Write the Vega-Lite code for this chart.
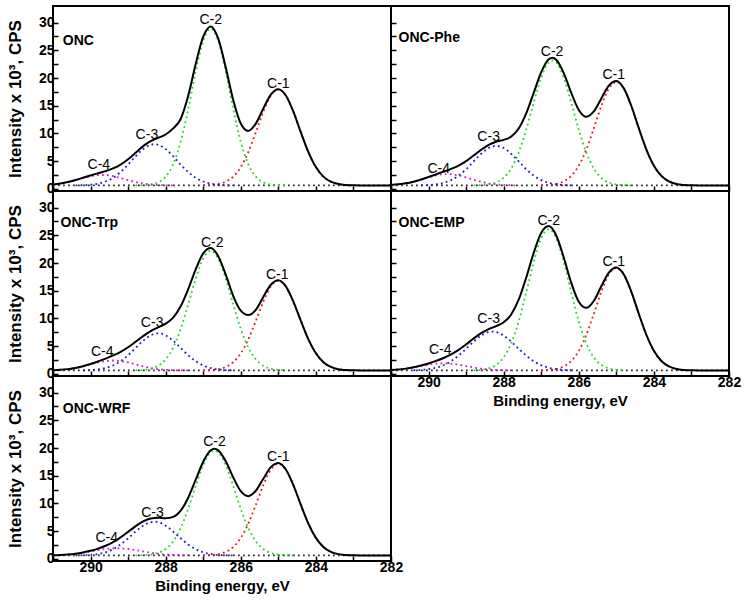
{
"$schema": "https://vega.github.io/schema/vega-lite/v6.json",
"padding": {"left": 5, "top": 5, "right": 14, "bottom": 8},
"background": "white",
"config": {
  "font": "Liberation Sans",
  "view": {"stroke": "black", "strokeWidth": 2},
  "axis": {"grid": false, "domain": false, "tickColor": "black", "tickSize": -5, "tickWidth": 1.5, "labelFont": "Liberation Sans", "labelFontSize": 14, "labelFontWeight": "bold", "labelColor": "black", "labelPadding": 4, "labelFlush": false, "labelOverlap": false, "titleFont": "Liberation Sans", "titleFontSize": 15, "titleFontWeight": "bold", "titleColor": "black"}
},
"datasets": {
"l": [
{"p":"ONC","k":"n","t":"ONC","x":290.74,"y":26.7},
{"p":"ONC","k":"c","t":"C-1","x":285.0,"y":18.2},
{"p":"ONC","k":"c","t":"C-2","x":286.8,"y":29.7},
{"p":"ONC","k":"c","t":"C-3","x":288.5,"y":8.95},
{"p":"ONC","k":"c","t":"C-4","x":289.78,"y":3.55},
{"p":"Phe","k":"n","t":"ONC-Phe","x":290.8,"y":27.3},
{"p":"Phe","k":"c","t":"C-1","x":285.07,"y":19.8},
{"p":"Phe","k":"c","t":"C-2","x":286.71,"y":24.0},
{"p":"Phe","k":"c","t":"C-3","x":288.4,"y":8.65},
{"p":"Phe","k":"c","t":"C-4","x":289.73,"y":2.9},
{"p":"Trp","k":"n","t":"ONC-Trp","x":290.8,"y":27.3},
{"p":"Trp","k":"c","t":"C-1","x":285.03,"y":17.1},
{"p":"Trp","k":"c","t":"C-2","x":286.76,"y":22.9},
{"p":"Trp","k":"c","t":"C-3","x":288.36,"y":8.4},
{"p":"Trp","k":"c","t":"C-4","x":289.69,"y":3.3},
{"p":"EMP","k":"n","t":"ONC-EMP","x":290.8,"y":27.3},
{"p":"EMP","k":"c","t":"C-1","x":285.07,"y":19.4},
{"p":"EMP","k":"c","t":"C-2","x":286.8,"y":26.8},
{"p":"EMP","k":"c","t":"C-3","x":288.4,"y":9.2},
{"p":"EMP","k":"c","t":"C-4","x":289.69,"y":3.6},
{"p":"WRF","k":"n","t":"ONC-WRF","x":290.74,"y":27.0},
{"p":"WRF","k":"c","t":"C-1","x":285.0,"y":17.7},
{"p":"WRF","k":"c","t":"C-2","x":286.7,"y":20.4},
{"p":"WRF","k":"c","t":"C-3","x":288.35,"y":7.6},
{"p":"WRF","k":"c","t":"C-4","x":289.57,"y":3.1}
],
"c": [
{"p":"ONC","s":"B","x":282,"y":0.6},{"p":"ONC","s":"B","x":291,"y":0.6},
{"p":"ONC","s":"E","x":282.0,"y":0.6},{"p":"ONC","s":"E","x":282.4,"y":0.6},{"p":"ONC","s":"E","x":282.8,"y":0.6},{"p":"ONC","s":"E","x":283.0,"y":0.62},{"p":"ONC","s":"E","x":283.2,"y":0.68},{"p":"ONC","s":"E","x":283.4,"y":0.85},{"p":"ONC","s":"E","x":283.6,"y":1.28},{"p":"ONC","s":"E","x":283.8,"y":2.2},{"p":"ONC","s":"E","x":284.0,"y":3.92},{"p":"ONC","s":"E","x":284.2,"y":6.62},{"p":"ONC","s":"E","x":284.4,"y":10.17},{"p":"ONC","s":"E","x":284.6,"y":13.92},{"p":"ONC","s":"E","x":284.8,"y":16.85},{"p":"ONC","s":"E","x":285.0,"y":17.99},{"p":"ONC","s":"E","x":285.2,"y":17.01},{"p":"ONC","s":"E","x":285.4,"y":14.48},{"p":"ONC","s":"E","x":285.6,"y":11.76},{"p":"ONC","s":"E","x":285.8,"y":10.45},{"p":"ONC","s":"E","x":286.0,"y":11.79},{"p":"ONC","s":"E","x":286.2,"y":16.0},{"p":"ONC","s":"E","x":286.4,"y":21.88},{"p":"ONC","s":"E","x":286.6,"y":27.1},{"p":"ONC","s":"E","x":286.8,"y":29.31},{"p":"ONC","s":"E","x":287.0,"y":27.45},{"p":"ONC","s":"E","x":287.2,"y":22.54},{"p":"ONC","s":"E","x":287.4,"y":16.8},{"p":"ONC","s":"E","x":287.6,"y":12.6},{"p":"ONC","s":"E","x":287.8,"y":10.9},{"p":"ONC","s":"E","x":288.0,"y":9.8},{"p":"ONC","s":"E","x":288.2,"y":9.2},{"p":"ONC","s":"E","x":288.4,"y":8.6},{"p":"ONC","s":"E","x":288.6,"y":7.7},{"p":"ONC","s":"E","x":288.8,"y":6.49},{"p":"ONC","s":"E","x":289.0,"y":5.33},{"p":"ONC","s":"E","x":289.2,"y":4.36},{"p":"ONC","s":"E","x":289.4,"y":3.67},{"p":"ONC","s":"E","x":289.6,"y":3.18},{"p":"ONC","s":"E","x":289.8,"y":2.8},{"p":"ONC","s":"E","x":290.0,"y":2.41},{"p":"ONC","s":"E","x":290.2,"y":1.99},{"p":"ONC","s":"E","x":290.4,"y":1.58},{"p":"ONC","s":"E","x":290.6,"y":1.22},{"p":"ONC","s":"E","x":290.8,"y":0.95},{"p":"ONC","s":"E","x":291.0,"y":0.78},
{"p":"ONC","s":"C1","x":283.0,"y":0.62},{"p":"ONC","s":"C1","x":283.2,"y":0.68},{"p":"ONC","s":"C1","x":283.4,"y":0.85},{"p":"ONC","s":"C1","x":283.6,"y":1.28},{"p":"ONC","s":"C1","x":283.8,"y":2.2},{"p":"ONC","s":"C1","x":284.0,"y":3.92},{"p":"ONC","s":"C1","x":284.2,"y":6.62},{"p":"ONC","s":"C1","x":284.4,"y":10.17},{"p":"ONC","s":"C1","x":284.6,"y":13.92},{"p":"ONC","s":"C1","x":284.8,"y":16.84},{"p":"ONC","s":"C1","x":285.0,"y":17.95},{"p":"ONC","s":"C1","x":285.2,"y":16.84},{"p":"ONC","s":"C1","x":285.4,"y":13.92},{"p":"ONC","s":"C1","x":285.6,"y":10.17},{"p":"ONC","s":"C1","x":285.8,"y":6.62},{"p":"ONC","s":"C1","x":286.0,"y":3.92},{"p":"ONC","s":"C1","x":286.2,"y":2.2},{"p":"ONC","s":"C1","x":286.4,"y":1.28},{"p":"ONC","s":"C1","x":286.6,"y":0.85},{"p":"ONC","s":"C1","x":286.8,"y":0.68},{"p":"ONC","s":"C1","x":287.0,"y":0.62},
{"p":"ONC","s":"C2","x":284.8,"y":0.61},{"p":"ONC","s":"C2","x":285.0,"y":0.64},{"p":"ONC","s":"C2","x":285.2,"y":0.77},{"p":"ONC","s":"C2","x":285.4,"y":1.16},{"p":"ONC","s":"C2","x":285.6,"y":2.19},{"p":"ONC","s":"C2","x":285.8,"y":4.43},{"p":"ONC","s":"C2","x":286.0,"y":8.47},{"p":"ONC","s":"C2","x":286.2,"y":14.38},{"p":"ONC","s":"C2","x":286.4,"y":21.15},{"p":"ONC","s":"C2","x":286.6,"y":26.72},{"p":"ONC","s":"C2","x":286.8,"y":28.9},{"p":"ONC","s":"C2","x":287.0,"y":26.72},{"p":"ONC","s":"C2","x":287.2,"y":21.15},{"p":"ONC","s":"C2","x":287.4,"y":14.38},{"p":"ONC","s":"C2","x":287.6,"y":8.47},{"p":"ONC","s":"C2","x":287.8,"y":4.43},{"p":"ONC","s":"C2","x":288.0,"y":2.19},{"p":"ONC","s":"C2","x":288.2,"y":1.16},{"p":"ONC","s":"C2","x":288.4,"y":0.77},{"p":"ONC","s":"C2","x":288.6,"y":0.64},{"p":"ONC","s":"C2","x":288.8,"y":0.61},
{"p":"ONC","s":"C3","x":286.2,"y":0.62},{"p":"ONC","s":"C3","x":286.4,"y":0.65},{"p":"ONC","s":"C3","x":286.6,"y":0.73},{"p":"ONC","s":"C3","x":286.8,"y":0.93},{"p":"ONC","s":"C3","x":287.0,"y":1.31},{"p":"ONC","s":"C3","x":287.2,"y":1.99},{"p":"ONC","s":"C3","x":287.4,"y":3.02},{"p":"ONC","s":"C3","x":287.6,"y":4.37},{"p":"ONC","s":"C3","x":287.8,"y":5.86},{"p":"ONC","s":"C3","x":288.0,"y":7.17},{"p":"ONC","s":"C3","x":288.2,"y":7.95},{"p":"ONC","s":"C3","x":288.3,"y":8.05},{"p":"ONC","s":"C3","x":288.4,"y":7.95},{"p":"ONC","s":"C3","x":288.6,"y":7.17},{"p":"ONC","s":"C3","x":288.8,"y":5.86},{"p":"ONC","s":"C3","x":289.0,"y":4.37},{"p":"ONC","s":"C3","x":289.2,"y":3.02},{"p":"ONC","s":"C3","x":289.4,"y":1.99},{"p":"ONC","s":"C3","x":289.6,"y":1.31},{"p":"ONC","s":"C3","x":289.8,"y":0.93},{"p":"ONC","s":"C3","x":290.0,"y":0.73},{"p":"ONC","s":"C3","x":290.2,"y":0.65},{"p":"ONC","s":"C3","x":290.4,"y":0.62},
{"p":"ONC","s":"C4","x":287.8,"y":0.61},{"p":"ONC","s":"C4","x":288.0,"y":0.63},{"p":"ONC","s":"C4","x":288.2,"y":0.68},{"p":"ONC","s":"C4","x":288.4,"y":0.78},{"p":"ONC","s":"C4","x":288.6,"y":0.95},{"p":"ONC","s":"C4","x":288.8,"y":1.22},{"p":"ONC","s":"C4","x":289.0,"y":1.56},{"p":"ONC","s":"C4","x":289.2,"y":1.94},{"p":"ONC","s":"C4","x":289.4,"y":2.28},{"p":"ONC","s":"C4","x":289.6,"y":2.47},{"p":"ONC","s":"C4","x":289.7,"y":2.5},{"p":"ONC","s":"C4","x":289.8,"y":2.47},{"p":"ONC","s":"C4","x":290.0,"y":2.28},{"p":"ONC","s":"C4","x":290.2,"y":1.94},{"p":"ONC","s":"C4","x":290.4,"y":1.56},{"p":"ONC","s":"C4","x":290.6,"y":1.22},{"p":"ONC","s":"C4","x":290.8,"y":0.95},{"p":"ONC","s":"C4","x":291.0,"y":0.78},

{"p":"Phe","s":"B","x":282,"y":0.6},{"p":"Phe","s":"B","x":291,"y":0.6},
{"p":"Phe","s":"E","x":282.0,"y":0.6},{"p":"Phe","s":"E","x":282.4,"y":0.6},{"p":"Phe","s":"E","x":282.8,"y":0.6},{"p":"Phe","s":"E","x":283.0,"y":0.62},{"p":"Phe","s":"E","x":283.2,"y":0.69},{"p":"Phe","s":"E","x":283.4,"y":0.87},{"p":"Phe","s":"E","x":283.6,"y":1.33},{"p":"Phe","s":"E","x":283.8,"y":2.33},{"p":"Phe","s":"E","x":284.0,"y":4.18},{"p":"Phe","s":"E","x":284.2,"y":7.08},{"p":"Phe","s":"E","x":284.4,"y":10.9},{"p":"Phe","s":"E","x":284.6,"y":14.95},{"p":"Phe","s":"E","x":284.8,"y":18.13},{"p":"Phe","s":"E","x":285.0,"y":19.46},{"p":"Phe","s":"E","x":285.2,"y":18.62},{"p":"Phe","s":"E","x":285.4,"y":16.31},{"p":"Phe","s":"E","x":285.6,"y":13.96},{"p":"Phe","s":"E","x":285.8,"y":13.0},{"p":"Phe","s":"E","x":286.0,"y":14.24},{"p":"Phe","s":"E","x":286.2,"y":17.3},{"p":"Phe","s":"E","x":286.4,"y":20.87},{"p":"Phe","s":"E","x":286.6,"y":23.28},{"p":"Phe","s":"E","x":286.7,"y":23.65},{"p":"Phe","s":"E","x":286.8,"y":23.37},{"p":"Phe","s":"E","x":287.0,"y":21.05},{"p":"Phe","s":"E","x":287.2,"y":17.32},{"p":"Phe","s":"E","x":287.4,"y":13.6},{"p":"Phe","s":"E","x":287.6,"y":10.87},{"p":"Phe","s":"E","x":287.8,"y":9.42},{"p":"Phe","s":"E","x":288.0,"y":8.83},{"p":"Phe","s":"E","x":288.2,"y":8.5},{"p":"Phe","s":"E","x":288.4,"y":7.93},{"p":"Phe","s":"E","x":288.6,"y":7.05},{"p":"Phe","s":"E","x":288.8,"y":6.0},{"p":"Phe","s":"E","x":289.0,"y":4.99},{"p":"Phe","s":"E","x":289.2,"y":4.19},{"p":"Phe","s":"E","x":289.4,"y":3.59},{"p":"Phe","s":"E","x":289.6,"y":3.09},{"p":"Phe","s":"E","x":289.8,"y":2.61},{"p":"Phe","s":"E","x":290.0,"y":2.13},{"p":"Phe","s":"E","x":290.2,"y":1.67},{"p":"Phe","s":"E","x":290.4,"y":1.28},{"p":"Phe","s":"E","x":290.6,"y":0.98},{"p":"Phe","s":"E","x":290.8,"y":0.8},{"p":"Phe","s":"E","x":291.0,"y":0.69},
{"p":"Phe","s":"C1","x":283.0,"y":0.62},{"p":"Phe","s":"C1","x":283.2,"y":0.69},{"p":"Phe","s":"C1","x":283.4,"y":0.87},{"p":"Phe","s":"C1","x":283.6,"y":1.33},{"p":"Phe","s":"C1","x":283.8,"y":2.33},{"p":"Phe","s":"C1","x":284.0,"y":4.18},{"p":"Phe","s":"C1","x":284.2,"y":7.08},{"p":"Phe","s":"C1","x":284.4,"y":10.9},{"p":"Phe","s":"C1","x":284.6,"y":14.93},{"p":"Phe","s":"C1","x":284.8,"y":18.07},{"p":"Phe","s":"C1","x":285.0,"y":19.27},{"p":"Phe","s":"C1","x":285.2,"y":18.07},{"p":"Phe","s":"C1","x":285.4,"y":14.93},{"p":"Phe","s":"C1","x":285.6,"y":10.9},{"p":"Phe","s":"C1","x":285.8,"y":7.08},{"p":"Phe","s":"C1","x":286.0,"y":4.18},{"p":"Phe","s":"C1","x":286.2,"y":2.33},{"p":"Phe","s":"C1","x":286.4,"y":1.33},{"p":"Phe","s":"C1","x":286.6,"y":0.87},{"p":"Phe","s":"C1","x":286.8,"y":0.69},{"p":"Phe","s":"C1","x":287.0,"y":0.62},
{"p":"Phe","s":"C2","x":284.6,"y":0.62},{"p":"Phe","s":"C2","x":284.8,"y":0.66},{"p":"Phe","s":"C2","x":285.0,"y":0.79},{"p":"Phe","s":"C2","x":285.2,"y":1.15},{"p":"Phe","s":"C2","x":285.4,"y":1.98},{"p":"Phe","s":"C2","x":285.6,"y":3.66},{"p":"Phe","s":"C2","x":285.8,"y":6.52},{"p":"Phe","s":"C2","x":286.0,"y":10.65},{"p":"Phe","s":"C2","x":286.2,"y":15.54},{"p":"Phe","s":"C2","x":286.4,"y":20.06},{"p":"Phe","s":"C2","x":286.6,"y":22.81},{"p":"Phe","s":"C2","x":286.7,"y":23.18},{"p":"Phe","s":"C2","x":286.8,"y":22.81},{"p":"Phe","s":"C2","x":287.0,"y":20.06},{"p":"Phe","s":"C2","x":287.2,"y":15.54},{"p":"Phe","s":"C2","x":287.4,"y":10.65},{"p":"Phe","s":"C2","x":287.6,"y":6.52},{"p":"Phe","s":"C2","x":287.8,"y":3.66},{"p":"Phe","s":"C2","x":288.0,"y":1.98},{"p":"Phe","s":"C2","x":288.2,"y":1.15},{"p":"Phe","s":"C2","x":288.4,"y":0.79},{"p":"Phe","s":"C2","x":288.6,"y":0.66},{"p":"Phe","s":"C2","x":288.8,"y":0.62},
{"p":"Phe","s":"C3","x":286.2,"y":0.63},{"p":"Phe","s":"C3","x":286.4,"y":0.68},{"p":"Phe","s":"C3","x":286.6,"y":0.8},{"p":"Phe","s":"C3","x":286.8,"y":1.07},{"p":"Phe","s":"C3","x":287.0,"y":1.57},{"p":"Phe","s":"C3","x":287.2,"y":2.38},{"p":"Phe","s":"C3","x":287.4,"y":3.54},{"p":"Phe","s":"C3","x":287.6,"y":4.94},{"p":"Phe","s":"C3","x":287.8,"y":6.32},{"p":"Phe","s":"C3","x":288.0,"y":7.36},{"p":"Phe","s":"C3","x":288.2,"y":7.75},{"p":"Phe","s":"C3","x":288.4,"y":7.36},{"p":"Phe","s":"C3","x":288.6,"y":6.32},{"p":"Phe","s":"C3","x":288.8,"y":4.94},{"p":"Phe","s":"C3","x":289.0,"y":3.54},{"p":"Phe","s":"C3","x":289.2,"y":2.38},{"p":"Phe","s":"C3","x":289.4,"y":1.57},{"p":"Phe","s":"C3","x":289.6,"y":1.07},{"p":"Phe","s":"C3","x":289.8,"y":0.8},{"p":"Phe","s":"C3","x":290.0,"y":0.68},{"p":"Phe","s":"C3","x":290.2,"y":0.63},
{"p":"Phe","s":"C4","x":287.6,"y":0.61},{"p":"Phe","s":"C4","x":287.8,"y":0.64},{"p":"Phe","s":"C4","x":288.0,"y":0.69},{"p":"Phe","s":"C4","x":288.2,"y":0.8},{"p":"Phe","s":"C4","x":288.4,"y":0.98},{"p":"Phe","s":"C4","x":288.6,"y":1.27},{"p":"Phe","s":"C4","x":288.8,"y":1.64},{"p":"Phe","s":"C4","x":289.0,"y":2.05},{"p":"Phe","s":"C4","x":289.2,"y":2.41},{"p":"Phe","s":"C4","x":289.4,"y":2.62},{"p":"Phe","s":"C4","x":289.5,"y":2.65},{"p":"Phe","s":"C4","x":289.6,"y":2.62},{"p":"Phe","s":"C4","x":289.8,"y":2.41},{"p":"Phe","s":"C4","x":290.0,"y":2.05},{"p":"Phe","s":"C4","x":290.2,"y":1.64},{"p":"Phe","s":"C4","x":290.4,"y":1.27},{"p":"Phe","s":"C4","x":290.6,"y":0.98},{"p":"Phe","s":"C4","x":290.8,"y":0.8},{"p":"Phe","s":"C4","x":291.0,"y":0.69},

{"p":"Trp","s":"B","x":282,"y":0.6},{"p":"Trp","s":"B","x":291,"y":0.6},
{"p":"Trp","s":"E","x":282.0,"y":0.6},{"p":"Trp","s":"E","x":282.4,"y":0.6},{"p":"Trp","s":"E","x":282.8,"y":0.6},{"p":"Trp","s":"E","x":283.0,"y":0.62},{"p":"Trp","s":"E","x":283.2,"y":0.68},{"p":"Trp","s":"E","x":283.4,"y":0.83},{"p":"Trp","s":"E","x":283.6,"y":1.24},{"p":"Trp","s":"E","x":283.8,"y":2.1},{"p":"Trp","s":"E","x":284.0,"y":3.7},{"p":"Trp","s":"E","x":284.2,"y":6.22},{"p":"Trp","s":"E","x":284.4,"y":9.54},{"p":"Trp","s":"E","x":284.6,"y":13.04},{"p":"Trp","s":"E","x":284.8,"y":15.79},{"p":"Trp","s":"E","x":285.0,"y":16.9},{"p":"Trp","s":"E","x":285.2,"y":16.07},{"p":"Trp","s":"E","x":285.4,"y":13.88},{"p":"Trp","s":"E","x":285.6,"y":11.54},{"p":"Trp","s":"E","x":285.8,"y":10.6},{"p":"Trp","s":"E","x":286.0,"y":11.4},{"p":"Trp","s":"E","x":286.2,"y":14.04},{"p":"Trp","s":"E","x":286.4,"y":17.89},{"p":"Trp","s":"E","x":286.6,"y":21.24},{"p":"Trp","s":"E","x":286.8,"y":22.72},{"p":"Trp","s":"E","x":287.0,"y":21.75},{"p":"Trp","s":"E","x":287.2,"y":18.85},{"p":"Trp","s":"E","x":287.4,"y":15.27},{"p":"Trp","s":"E","x":287.6,"y":12.18},{"p":"Trp","s":"E","x":287.8,"y":10.15},{"p":"Trp","s":"E","x":288.0,"y":9.06},{"p":"Trp","s":"E","x":288.2,"y":8.39},{"p":"Trp","s":"E","x":288.4,"y":7.7},{"p":"Trp","s":"E","x":288.6,"y":6.8},{"p":"Trp","s":"E","x":288.8,"y":5.78},{"p":"Trp","s":"E","x":289.0,"y":4.79},{"p":"Trp","s":"E","x":289.2,"y":3.97},{"p":"Trp","s":"E","x":289.4,"y":3.31},{"p":"Trp","s":"E","x":289.6,"y":2.74},{"p":"Trp","s":"E","x":289.8,"y":2.23},{"p":"Trp","s":"E","x":290.0,"y":1.76},{"p":"Trp","s":"E","x":290.2,"y":1.37},{"p":"Trp","s":"E","x":290.4,"y":1.05},{"p":"Trp","s":"E","x":290.6,"y":0.84},{"p":"Trp","s":"E","x":290.8,"y":0.72},{"p":"Trp","s":"E","x":291.0,"y":0.65},
{"p":"Trp","s":"C1","x":283.0,"y":0.62},{"p":"Trp","s":"C1","x":283.2,"y":0.68},{"p":"Trp","s":"C1","x":283.4,"y":0.83},{"p":"Trp","s":"C1","x":283.6,"y":1.24},{"p":"Trp","s":"C1","x":283.8,"y":2.1},{"p":"Trp","s":"C1","x":284.0,"y":3.7},{"p":"Trp","s":"C1","x":284.2,"y":6.22},{"p":"Trp","s":"C1","x":284.4,"y":9.54},{"p":"Trp","s":"C1","x":284.6,"y":13.03},{"p":"Trp","s":"C1","x":284.8,"y":15.76},{"p":"Trp","s":"C1","x":285.0,"y":16.8},{"p":"Trp","s":"C1","x":285.2,"y":15.76},{"p":"Trp","s":"C1","x":285.4,"y":13.03},{"p":"Trp","s":"C1","x":285.6,"y":9.54},{"p":"Trp","s":"C1","x":285.8,"y":6.22},{"p":"Trp","s":"C1","x":286.0,"y":3.7},{"p":"Trp","s":"C1","x":286.2,"y":2.1},{"p":"Trp","s":"C1","x":286.4,"y":1.24},{"p":"Trp","s":"C1","x":286.6,"y":0.83},{"p":"Trp","s":"C1","x":286.8,"y":0.68},{"p":"Trp","s":"C1","x":287.0,"y":0.62},
{"p":"Trp","s":"C2","x":284.8,"y":0.63},{"p":"Trp","s":"C2","x":285.0,"y":0.7},{"p":"Trp","s":"C2","x":285.2,"y":0.91},{"p":"Trp","s":"C2","x":285.4,"y":1.45},{"p":"Trp","s":"C2","x":285.6,"y":2.6},{"p":"Trp","s":"C2","x":285.8,"y":4.74},{"p":"Trp","s":"C2","x":286.0,"y":8.1},{"p":"Trp","s":"C2","x":286.2,"y":12.51},{"p":"Trp","s":"C2","x":286.4,"y":17.18},{"p":"Trp","s":"C2","x":286.6,"y":20.82},{"p":"Trp","s":"C2","x":286.8,"y":22.2},{"p":"Trp","s":"C2","x":287.0,"y":20.82},{"p":"Trp","s":"C2","x":287.2,"y":17.18},{"p":"Trp","s":"C2","x":287.4,"y":12.51},{"p":"Trp","s":"C2","x":287.6,"y":8.1},{"p":"Trp","s":"C2","x":287.8,"y":4.74},{"p":"Trp","s":"C2","x":288.0,"y":2.6},{"p":"Trp","s":"C2","x":288.2,"y":1.45},{"p":"Trp","s":"C2","x":288.4,"y":0.91},{"p":"Trp","s":"C2","x":288.6,"y":0.7},{"p":"Trp","s":"C2","x":288.8,"y":0.63},
{"p":"Trp","s":"C3","x":286.2,"y":0.63},{"p":"Trp","s":"C3","x":286.4,"y":0.67},{"p":"Trp","s":"C3","x":286.6,"y":0.79},{"p":"Trp","s":"C3","x":286.8,"y":1.04},{"p":"Trp","s":"C3","x":287.0,"y":1.51},{"p":"Trp","s":"C3","x":287.2,"y":2.27},{"p":"Trp","s":"C3","x":287.4,"y":3.35},{"p":"Trp","s":"C3","x":287.6,"y":4.66},{"p":"Trp","s":"C3","x":287.8,"y":5.96},{"p":"Trp","s":"C3","x":288.0,"y":6.94},{"p":"Trp","s":"C3","x":288.2,"y":7.3},{"p":"Trp","s":"C3","x":288.4,"y":6.94},{"p":"Trp","s":"C3","x":288.6,"y":5.96},{"p":"Trp","s":"C3","x":288.8,"y":4.66},{"p":"Trp","s":"C3","x":289.0,"y":3.35},{"p":"Trp","s":"C3","x":289.2,"y":2.27},{"p":"Trp","s":"C3","x":289.4,"y":1.51},{"p":"Trp","s":"C3","x":289.6,"y":1.04},{"p":"Trp","s":"C3","x":289.8,"y":0.79},{"p":"Trp","s":"C3","x":290.0,"y":0.67},{"p":"Trp","s":"C3","x":290.2,"y":0.63},
{"p":"Trp","s":"C4","x":287.4,"y":0.61},{"p":"Trp","s":"C4","x":287.6,"y":0.62},{"p":"Trp","s":"C4","x":287.8,"y":0.65},{"p":"Trp","s":"C4","x":288.0,"y":0.72},{"p":"Trp","s":"C4","x":288.2,"y":0.84},{"p":"Trp","s":"C4","x":288.4,"y":1.05},{"p":"Trp","s":"C4","x":288.6,"y":1.34},{"p":"Trp","s":"C4","x":288.8,"y":1.69},{"p":"Trp","s":"C4","x":289.0,"y":2.04},{"p":"Trp","s":"C4","x":289.2,"y":2.3},{"p":"Trp","s":"C4","x":289.4,"y":2.4},{"p":"Trp","s":"C4","x":289.6,"y":2.3},{"p":"Trp","s":"C4","x":289.8,"y":2.04},{"p":"Trp","s":"C4","x":290.0,"y":1.69},{"p":"Trp","s":"C4","x":290.2,"y":1.34},{"p":"Trp","s":"C4","x":290.4,"y":1.05},{"p":"Trp","s":"C4","x":290.6,"y":0.84},{"p":"Trp","s":"C4","x":290.8,"y":0.72},{"p":"Trp","s":"C4","x":291.0,"y":0.65},

{"p":"EMP","s":"B","x":282,"y":0.6},{"p":"EMP","s":"B","x":291,"y":0.6},
{"p":"EMP","s":"E","x":282.0,"y":0.6},{"p":"EMP","s":"E","x":282.4,"y":0.6},{"p":"EMP","s":"E","x":282.8,"y":0.6},{"p":"EMP","s":"E","x":283.0,"y":0.62},{"p":"EMP","s":"E","x":283.2,"y":0.69},{"p":"EMP","s":"E","x":283.4,"y":0.87},{"p":"EMP","s":"E","x":283.6,"y":1.32},{"p":"EMP","s":"E","x":283.8,"y":2.31},{"p":"EMP","s":"E","x":284.0,"y":4.14},{"p":"EMP","s":"E","x":284.2,"y":7.02},{"p":"EMP","s":"E","x":284.4,"y":10.79},{"p":"EMP","s":"E","x":284.6,"y":14.8},{"p":"EMP","s":"E","x":284.8,"y":17.93},{"p":"EMP","s":"E","x":285.0,"y":19.2},{"p":"EMP","s":"E","x":285.2,"y":18.27},{"p":"EMP","s":"E","x":285.4,"y":15.79},{"p":"EMP","s":"E","x":285.6,"y":13.15},{"p":"EMP","s":"E","x":285.8,"y":11.9},{"p":"EMP","s":"E","x":286.0,"y":13.0},{"p":"EMP","s":"E","x":286.2,"y":16.42},{"p":"EMP","s":"E","x":286.4,"y":20.99},{"p":"EMP","s":"E","x":286.6,"y":24.97},{"p":"EMP","s":"E","x":286.8,"y":26.68},{"p":"EMP","s":"E","x":287.0,"y":25.44},{"p":"EMP","s":"E","x":287.2,"y":21.84},{"p":"EMP","s":"E","x":287.4,"y":17.35},{"p":"EMP","s":"E","x":287.6,"y":13.38},{"p":"EMP","s":"E","x":287.8,"y":10.7},{"p":"EMP","s":"E","x":288.0,"y":9.29},{"p":"EMP","s":"E","x":288.2,"y":8.61},{"p":"EMP","s":"E","x":288.4,"y":8.07},{"p":"EMP","s":"E","x":288.6,"y":7.33},{"p":"EMP","s":"E","x":288.8,"y":6.37},{"p":"EMP","s":"E","x":289.0,"y":5.31},{"p":"EMP","s":"E","x":289.2,"y":4.32},{"p":"EMP","s":"E","x":289.4,"y":3.5},{"p":"EMP","s":"E","x":289.6,"y":2.85},{"p":"EMP","s":"E","x":289.8,"y":2.32},{"p":"EMP","s":"E","x":290.0,"y":1.87},{"p":"EMP","s":"E","x":290.2,"y":1.49},{"p":"EMP","s":"E","x":290.4,"y":1.17},{"p":"EMP","s":"E","x":290.6,"y":0.93},{"p":"EMP","s":"E","x":290.8,"y":0.78},{"p":"EMP","s":"E","x":291.0,"y":0.69},
{"p":"EMP","s":"C1","x":283.0,"y":0.62},{"p":"EMP","s":"C1","x":283.2,"y":0.69},{"p":"EMP","s":"C1","x":283.4,"y":0.87},{"p":"EMP","s":"C1","x":283.6,"y":1.32},{"p":"EMP","s":"C1","x":283.8,"y":2.31},{"p":"EMP","s":"C1","x":284.0,"y":4.14},{"p":"EMP","s":"C1","x":284.2,"y":7.02},{"p":"EMP","s":"C1","x":284.4,"y":10.79},{"p":"EMP","s":"C1","x":284.6,"y":14.79},{"p":"EMP","s":"C1","x":284.8,"y":17.9},{"p":"EMP","s":"C1","x":285.0,"y":19.08},{"p":"EMP","s":"C1","x":285.2,"y":17.9},{"p":"EMP","s":"C1","x":285.4,"y":14.79},{"p":"EMP","s":"C1","x":285.6,"y":10.79},{"p":"EMP","s":"C1","x":285.8,"y":7.02},{"p":"EMP","s":"C1","x":286.0,"y":4.14},{"p":"EMP","s":"C1","x":286.2,"y":2.31},{"p":"EMP","s":"C1","x":286.4,"y":1.32},{"p":"EMP","s":"C1","x":286.6,"y":0.87},{"p":"EMP","s":"C1","x":286.8,"y":0.69},{"p":"EMP","s":"C1","x":287.0,"y":0.62},
{"p":"EMP","s":"C2","x":284.8,"y":0.63},{"p":"EMP","s":"C2","x":285.0,"y":0.72},{"p":"EMP","s":"C2","x":285.2,"y":0.97},{"p":"EMP","s":"C2","x":285.4,"y":1.6},{"p":"EMP","s":"C2","x":285.6,"y":2.96},{"p":"EMP","s":"C2","x":285.8,"y":5.48},{"p":"EMP","s":"C2","x":286.0,"y":9.45},{"p":"EMP","s":"C2","x":286.2,"y":14.67},{"p":"EMP","s":"C2","x":286.4,"y":20.17},{"p":"EMP","s":"C2","x":286.6,"y":24.47},{"p":"EMP","s":"C2","x":286.8,"y":26.1},{"p":"EMP","s":"C2","x":287.0,"y":24.47},{"p":"EMP","s":"C2","x":287.2,"y":20.17},{"p":"EMP","s":"C2","x":287.4,"y":14.67},{"p":"EMP","s":"C2","x":287.6,"y":9.45},{"p":"EMP","s":"C2","x":287.8,"y":5.48},{"p":"EMP","s":"C2","x":288.0,"y":2.96},{"p":"EMP","s":"C2","x":288.2,"y":1.6},{"p":"EMP","s":"C2","x":288.4,"y":0.97},{"p":"EMP","s":"C2","x":288.6,"y":0.72},{"p":"EMP","s":"C2","x":288.8,"y":0.63},
{"p":"EMP","s":"C3","x":286.2,"y":0.64},{"p":"EMP","s":"C3","x":286.4,"y":0.7},{"p":"EMP","s":"C3","x":286.6,"y":0.83},{"p":"EMP","s":"C3","x":286.8,"y":1.09},{"p":"EMP","s":"C3","x":287.0,"y":1.55},{"p":"EMP","s":"C3","x":287.2,"y":2.27},{"p":"EMP","s":"C3","x":287.4,"y":3.28},{"p":"EMP","s":"C3","x":287.6,"y":4.52},{"p":"EMP","s":"C3","x":287.8,"y":5.81},{"p":"EMP","s":"C3","x":288.0,"y":6.89},{"p":"EMP","s":"C3","x":288.2,"y":7.52},{"p":"EMP","s":"C3","x":288.3,"y":7.6},{"p":"EMP","s":"C3","x":288.4,"y":7.52},{"p":"EMP","s":"C3","x":288.6,"y":6.89},{"p":"EMP","s":"C3","x":288.8,"y":5.81},{"p":"EMP","s":"C3","x":289.0,"y":4.52},{"p":"EMP","s":"C3","x":289.2,"y":3.28},{"p":"EMP","s":"C3","x":289.4,"y":2.27},{"p":"EMP","s":"C3","x":289.6,"y":1.55},{"p":"EMP","s":"C3","x":289.8,"y":1.09},{"p":"EMP","s":"C3","x":290.0,"y":0.83},{"p":"EMP","s":"C3","x":290.2,"y":0.7},{"p":"EMP","s":"C3","x":290.4,"y":0.64},
{"p":"EMP","s":"C4","x":287.8,"y":0.61},{"p":"EMP","s":"C4","x":288.0,"y":0.64},{"p":"EMP","s":"C4","x":288.2,"y":0.69},{"p":"EMP","s":"C4","x":288.4,"y":0.78},{"p":"EMP","s":"C4","x":288.6,"y":0.92},{"p":"EMP","s":"C4","x":288.8,"y":1.13},{"p":"EMP","s":"C4","x":289.0,"y":1.39},{"p":"EMP","s":"C4","x":289.2,"y":1.64},{"p":"EMP","s":"C4","x":289.4,"y":1.83},{"p":"EMP","s":"C4","x":289.6,"y":1.9},{"p":"EMP","s":"C4","x":289.8,"y":1.83},{"p":"EMP","s":"C4","x":290.0,"y":1.64},{"p":"EMP","s":"C4","x":290.2,"y":1.39},{"p":"EMP","s":"C4","x":290.4,"y":1.13},{"p":"EMP","s":"C4","x":290.6,"y":0.92},{"p":"EMP","s":"C4","x":290.8,"y":0.78},{"p":"EMP","s":"C4","x":291.0,"y":0.69},

{"p":"WRF","s":"B","x":282,"y":0.6},{"p":"WRF","s":"B","x":291,"y":0.6},
{"p":"WRF","s":"E","x":282.0,"y":0.6},{"p":"WRF","s":"E","x":282.4,"y":0.6},{"p":"WRF","s":"E","x":282.8,"y":0.6},{"p":"WRF","s":"E","x":283.0,"y":0.62},{"p":"WRF","s":"E","x":283.2,"y":0.68},{"p":"WRF","s":"E","x":283.4,"y":0.84},{"p":"WRF","s":"E","x":283.6,"y":1.25},{"p":"WRF","s":"E","x":283.8,"y":2.13},{"p":"WRF","s":"E","x":284.0,"y":3.77},{"p":"WRF","s":"E","x":284.2,"y":6.34},{"p":"WRF","s":"E","x":284.4,"y":9.72},{"p":"WRF","s":"E","x":284.6,"y":13.31},{"p":"WRF","s":"E","x":284.8,"y":16.13},{"p":"WRF","s":"E","x":285.0,"y":17.3},{"p":"WRF","s":"E","x":285.2,"y":16.54},{"p":"WRF","s":"E","x":285.4,"y":14.46},{"p":"WRF","s":"E","x":285.6,"y":12.28},{"p":"WRF","s":"E","x":285.8,"y":11.3},{"p":"WRF","s":"E","x":286.0,"y":12.2},{"p":"WRF","s":"E","x":286.2,"y":14.67},{"p":"WRF","s":"E","x":286.4,"y":17.61},{"p":"WRF","s":"E","x":286.6,"y":19.58},{"p":"WRF","s":"E","x":286.7,"y":19.85},{"p":"WRF","s":"E","x":286.8,"y":19.58},{"p":"WRF","s":"E","x":287.0,"y":17.52},{"p":"WRF","s":"E","x":287.2,"y":14.28},{"p":"WRF","s":"E","x":287.4,"y":11.03},{"p":"WRF","s":"E","x":287.6,"y":8.69},{"p":"WRF","s":"E","x":287.8,"y":7.56},{"p":"WRF","s":"E","x":288.0,"y":7.32},{"p":"WRF","s":"E","x":288.2,"y":7.39},{"p":"WRF","s":"E","x":288.4,"y":7.28},{"p":"WRF","s":"E","x":288.6,"y":6.76},{"p":"WRF","s":"E","x":288.8,"y":5.89},{"p":"WRF","s":"E","x":289.0,"y":4.86},{"p":"WRF","s":"E","x":289.2,"y":3.86},{"p":"WRF","s":"E","x":289.4,"y":3.02},{"p":"WRF","s":"E","x":289.6,"y":2.35},{"p":"WRF","s":"E","x":289.8,"y":1.84},{"p":"WRF","s":"E","x":290.0,"y":1.44},{"p":"WRF","s":"E","x":290.2,"y":1.14},{"p":"WRF","s":"E","x":290.4,"y":0.92},{"p":"WRF","s":"E","x":290.6,"y":0.78},{"p":"WRF","s":"E","x":290.8,"y":0.69},{"p":"WRF","s":"E","x":291.0,"y":0.64},
{"p":"WRF","s":"C1","x":283.0,"y":0.62},{"p":"WRF","s":"C1","x":283.2,"y":0.68},{"p":"WRF","s":"C1","x":283.4,"y":0.84},{"p":"WRF","s":"C1","x":283.6,"y":1.25},{"p":"WRF","s":"C1","x":283.8,"y":2.13},{"p":"WRF","s":"C1","x":284.0,"y":3.77},{"p":"WRF","s":"C1","x":284.2,"y":6.34},{"p":"WRF","s":"C1","x":284.4,"y":9.72},{"p":"WRF","s":"C1","x":284.6,"y":13.3},{"p":"WRF","s":"C1","x":284.8,"y":16.08},{"p":"WRF","s":"C1","x":285.0,"y":17.14},{"p":"WRF","s":"C1","x":285.2,"y":16.08},{"p":"WRF","s":"C1","x":285.4,"y":13.3},{"p":"WRF","s":"C1","x":285.6,"y":9.72},{"p":"WRF","s":"C1","x":285.8,"y":6.34},{"p":"WRF","s":"C1","x":286.0,"y":3.77},{"p":"WRF","s":"C1","x":286.2,"y":2.13},{"p":"WRF","s":"C1","x":286.4,"y":1.25},{"p":"WRF","s":"C1","x":286.6,"y":0.84},{"p":"WRF","s":"C1","x":286.8,"y":0.68},{"p":"WRF","s":"C1","x":287.0,"y":0.62},
{"p":"WRF","s":"C2","x":284.6,"y":0.61},{"p":"WRF","s":"C2","x":284.8,"y":0.65},{"p":"WRF","s":"C2","x":285.0,"y":0.76},{"p":"WRF","s":"C2","x":285.2,"y":1.06},{"p":"WRF","s":"C2","x":285.4,"y":1.76},{"p":"WRF","s":"C2","x":285.6,"y":3.16},{"p":"WRF","s":"C2","x":285.8,"y":5.56},{"p":"WRF","s":"C2","x":286.0,"y":9.03},{"p":"WRF","s":"C2","x":286.2,"y":13.13},{"p":"WRF","s":"C2","x":286.4,"y":16.92},{"p":"WRF","s":"C2","x":286.6,"y":19.23},{"p":"WRF","s":"C2","x":286.7,"y":19.54},{"p":"WRF","s":"C2","x":286.8,"y":19.23},{"p":"WRF","s":"C2","x":287.0,"y":16.92},{"p":"WRF","s":"C2","x":287.2,"y":13.13},{"p":"WRF","s":"C2","x":287.4,"y":9.03},{"p":"WRF","s":"C2","x":287.6,"y":5.56},{"p":"WRF","s":"C2","x":287.8,"y":3.16},{"p":"WRF","s":"C2","x":288.0,"y":1.76},{"p":"WRF","s":"C2","x":288.2,"y":1.06},{"p":"WRF","s":"C2","x":288.4,"y":0.76},{"p":"WRF","s":"C2","x":288.6,"y":0.65},{"p":"WRF","s":"C2","x":288.8,"y":0.61},
{"p":"WRF","s":"C3","x":286.2,"y":0.61},{"p":"WRF","s":"C3","x":286.4,"y":0.64},{"p":"WRF","s":"C3","x":286.6,"y":0.71},{"p":"WRF","s":"C3","x":286.8,"y":0.87},{"p":"WRF","s":"C3","x":287.0,"y":1.18},{"p":"WRF","s":"C3","x":287.2,"y":1.74},{"p":"WRF","s":"C3","x":287.4,"y":2.58},{"p":"WRF","s":"C3","x":287.6,"y":3.69},{"p":"WRF","s":"C3","x":287.8,"y":4.91},{"p":"WRF","s":"C3","x":288.0,"y":5.98},{"p":"WRF","s":"C3","x":288.2,"y":6.62},{"p":"WRF","s":"C3","x":288.3,"y":6.7},{"p":"WRF","s":"C3","x":288.4,"y":6.62},{"p":"WRF","s":"C3","x":288.6,"y":5.98},{"p":"WRF","s":"C3","x":288.8,"y":4.91},{"p":"WRF","s":"C3","x":289.0,"y":3.69},{"p":"WRF","s":"C3","x":289.2,"y":2.58},{"p":"WRF","s":"C3","x":289.4,"y":1.74},{"p":"WRF","s":"C3","x":289.6,"y":1.18},{"p":"WRF","s":"C3","x":289.8,"y":0.87},{"p":"WRF","s":"C3","x":290.0,"y":0.71},{"p":"WRF","s":"C3","x":290.2,"y":0.64},{"p":"WRF","s":"C3","x":290.4,"y":0.61},
{"p":"WRF","s":"C4","x":287.4,"y":0.62},{"p":"WRF","s":"C4","x":287.6,"y":0.64},{"p":"WRF","s":"C4","x":287.8,"y":0.69},{"p":"WRF","s":"C4","x":288.0,"y":0.78},{"p":"WRF","s":"C4","x":288.2,"y":0.91},{"p":"WRF","s":"C4","x":288.4,"y":1.1},{"p":"WRF","s":"C4","x":288.6,"y":1.33},{"p":"WRF","s":"C4","x":288.8,"y":1.57},{"p":"WRF","s":"C4","x":289.0,"y":1.77},{"p":"WRF","s":"C4","x":289.2,"y":1.88},{"p":"WRF","s":"C4","x":289.3,"y":1.9},{"p":"WRF","s":"C4","x":289.4,"y":1.88},{"p":"WRF","s":"C4","x":289.6,"y":1.77},{"p":"WRF","s":"C4","x":289.8,"y":1.57},{"p":"WRF","s":"C4","x":290.0,"y":1.33},{"p":"WRF","s":"C4","x":290.2,"y":1.1},{"p":"WRF","s":"C4","x":290.4,"y":0.91},{"p":"WRF","s":"C4","x":290.6,"y":0.78},{"p":"WRF","s":"C4","x":290.8,"y":0.69},{"p":"WRF","s":"C4","x":291.0,"y":0.64}
]
},
"columns": 2,
"spacing": 0,
"bounds": "flush",
"concat": [
{"width": 338, "height": 185,
 "encoding": {
  "x": {"field": "x", "type": "quantitative", "scale": {"domain": [282, 291], "reverse": true, "nice": false, "zero": false}, "axis": {"values": [282,283,284,285,286,287,288,289,290,291], "labels": false, "title": null}},
  "y": {"field": "y", "type": "quantitative", "scale": {"domain": [-0.4, 33], "nice": false, "zero": false}, "axis": {"values": [0,2.5,5,7.5,10,12.5,15,17.5,20,22.5,25,27.5,30], "labelExpr": "datum.value % 5 == 0 ? datum.label : ''", "title": "Intensity x 10³, CPS", "titleFontSize": 17, "titlePadding": 14}}
 },
 "layer": [
  {"data": {"name": "c"}, "transform": [{"filter": "datum.p == 'ONC' && datum.s != 'E'"}], "mark": {"type": "line", "interpolate": "monotone", "strokeWidth": 1.8, "strokeDash": [1.8, 3.2]}, "encoding": {"color": {"field": "s", "type": "nominal", "scale": {"domain": ["B","C1","C2","C3","C4"], "range": ["#333333","#e8141c","#22d822","#1c1cc8","#d41cd4"]}, "legend": null}}},
  {"data": {"name": "c"}, "transform": [{"filter": "datum.p == 'ONC' && datum.s == 'E'"}], "mark": {"type": "line", "interpolate": "monotone", "color": "black", "strokeWidth": 2}},
  {"data": {"name": "l"}, "transform": [{"filter": "datum.p == 'ONC' && datum.k == 'c'"}], "mark": {"type": "text", "fontSize": 14, "baseline": "alphabetic", "align": "center", "color": "black"}, "encoding": {"text": {"field": "t"}}},
  {"data": {"name": "l"}, "transform": [{"filter": "datum.p == 'ONC' && datum.k == 'n'"}], "mark": {"type": "text", "fontSize": 14, "fontWeight": "bold", "baseline": "middle", "align": "left", "color": "black"}, "encoding": {"text": {"field": "t"}}}
 ]},
{"width": 338, "height": 185,
 "encoding": {
  "x": {"field": "x", "type": "quantitative", "scale": {"domain": [282, 291], "reverse": true, "nice": false, "zero": false}, "axis": {"values": [282,283,284,285,286,287,288,289,290,291], "labels": false, "title": null}},
  "y": {"field": "y", "type": "quantitative", "scale": {"domain": [-0.4, 33], "nice": false, "zero": false}, "axis": {"values": [0,2.5,5,7.5,10,12.5,15,17.5,20,22.5,25,27.5,30], "labels": false, "title": null}}
 },
 "layer": [
  {"data": {"name": "c"}, "transform": [{"filter": "datum.p == 'Phe' && datum.s != 'E'"}], "mark": {"type": "line", "interpolate": "monotone", "strokeWidth": 1.8, "strokeDash": [1.8, 3.2]}, "encoding": {"color": {"field": "s", "type": "nominal", "scale": {"domain": ["B","C1","C2","C3","C4"], "range": ["#333333","#e8141c","#22d822","#1c1cc8","#d41cd4"]}, "legend": null}}},
  {"data": {"name": "c"}, "transform": [{"filter": "datum.p == 'Phe' && datum.s == 'E'"}], "mark": {"type": "line", "interpolate": "monotone", "color": "black", "strokeWidth": 2}},
  {"data": {"name": "l"}, "transform": [{"filter": "datum.p == 'Phe' && datum.k == 'c'"}], "mark": {"type": "text", "fontSize": 14, "baseline": "alphabetic", "align": "center", "color": "black"}, "encoding": {"text": {"field": "t"}}},
  {"data": {"name": "l"}, "transform": [{"filter": "datum.p == 'Phe' && datum.k == 'n'"}], "mark": {"type": "text", "fontSize": 14, "fontWeight": "bold", "baseline": "middle", "align": "left", "color": "black"}, "encoding": {"text": {"field": "t"}}}
 ]},
{"width": 338, "height": 185,
 "encoding": {
  "x": {"field": "x", "type": "quantitative", "scale": {"domain": [282, 291], "reverse": true, "nice": false, "zero": false}, "axis": {"values": [282,283,284,285,286,287,288,289,290,291], "labels": false, "title": null}},
  "y": {"field": "y", "type": "quantitative", "scale": {"domain": [-0.4, 33], "nice": false, "zero": false}, "axis": {"values": [0,2.5,5,7.5,10,12.5,15,17.5,20,22.5,25,27.5,30], "labelExpr": "datum.value % 5 == 0 ? datum.label : ''", "title": "Intensity x 10³, CPS", "titleFontSize": 17, "titlePadding": 14}}
 },
 "layer": [
  {"data": {"name": "c"}, "transform": [{"filter": "datum.p == 'Trp' && datum.s != 'E'"}], "mark": {"type": "line", "interpolate": "monotone", "strokeWidth": 1.8, "strokeDash": [1.8, 3.2]}, "encoding": {"color": {"field": "s", "type": "nominal", "scale": {"domain": ["B","C1","C2","C3","C4"], "range": ["#333333","#e8141c","#22d822","#1c1cc8","#d41cd4"]}, "legend": null}}},
  {"data": {"name": "c"}, "transform": [{"filter": "datum.p == 'Trp' && datum.s == 'E'"}], "mark": {"type": "line", "interpolate": "monotone", "color": "black", "strokeWidth": 2}},
  {"data": {"name": "l"}, "transform": [{"filter": "datum.p == 'Trp' && datum.k == 'c'"}], "mark": {"type": "text", "fontSize": 14, "baseline": "alphabetic", "align": "center", "color": "black"}, "encoding": {"text": {"field": "t"}}},
  {"data": {"name": "l"}, "transform": [{"filter": "datum.p == 'Trp' && datum.k == 'n'"}], "mark": {"type": "text", "fontSize": 14, "fontWeight": "bold", "baseline": "middle", "align": "left", "color": "black"}, "encoding": {"text": {"field": "t"}}}
 ]},
{"width": 338, "height": 185,
 "encoding": {
  "x": {"field": "x", "type": "quantitative", "scale": {"domain": [282, 291], "reverse": true, "nice": false, "zero": false}, "axis": {"values": [282,283,284,285,286,287,288,289,290,291], "labelExpr": "datum.value % 2 == 0 ? datum.label : ''", "title": "Binding energy, eV", "titlePadding": 4}},
  "y": {"field": "y", "type": "quantitative", "scale": {"domain": [-0.4, 33], "nice": false, "zero": false}, "axis": {"values": [0,2.5,5,7.5,10,12.5,15,17.5,20,22.5,25,27.5,30], "labels": false, "title": null}}
 },
 "layer": [
  {"data": {"name": "c"}, "transform": [{"filter": "datum.p == 'EMP' && datum.s != 'E'"}], "mark": {"type": "line", "interpolate": "monotone", "strokeWidth": 1.8, "strokeDash": [1.8, 3.2]}, "encoding": {"color": {"field": "s", "type": "nominal", "scale": {"domain": ["B","C1","C2","C3","C4"], "range": ["#333333","#e8141c","#22d822","#1c1cc8","#d41cd4"]}, "legend": null}}},
  {"data": {"name": "c"}, "transform": [{"filter": "datum.p == 'EMP' && datum.s == 'E'"}], "mark": {"type": "line", "interpolate": "monotone", "color": "black", "strokeWidth": 2}},
  {"data": {"name": "l"}, "transform": [{"filter": "datum.p == 'EMP' && datum.k == 'c'"}], "mark": {"type": "text", "fontSize": 14, "baseline": "alphabetic", "align": "center", "color": "black"}, "encoding": {"text": {"field": "t"}}},
  {"data": {"name": "l"}, "transform": [{"filter": "datum.p == 'EMP' && datum.k == 'n'"}], "mark": {"type": "text", "fontSize": 14, "fontWeight": "bold", "baseline": "middle", "align": "left", "color": "black"}, "encoding": {"text": {"field": "t"}}}
 ]},
{"width": 338, "height": 185,
 "encoding": {
  "x": {"field": "x", "type": "quantitative", "scale": {"domain": [282, 291], "reverse": true, "nice": false, "zero": false}, "axis": {"values": [282,283,284,285,286,287,288,289,290,291], "labelExpr": "datum.value % 2 == 0 ? datum.label : ''", "title": "Binding energy, eV", "titlePadding": 4}},
  "y": {"field": "y", "type": "quantitative", "scale": {"domain": [-0.4, 33], "nice": false, "zero": false}, "axis": {"values": [0,2.5,5,7.5,10,12.5,15,17.5,20,22.5,25,27.5,30], "labelExpr": "datum.value % 5 == 0 ? datum.label : ''", "title": "Intensity x 10³, CPS", "titleFontSize": 17, "titlePadding": 14}}
 },
 "layer": [
  {"data": {"name": "c"}, "transform": [{"filter": "datum.p == 'WRF' && datum.s != 'E'"}], "mark": {"type": "line", "interpolate": "monotone", "strokeWidth": 1.8, "strokeDash": [1.8, 3.2]}, "encoding": {"color": {"field": "s", "type": "nominal", "scale": {"domain": ["B","C1","C2","C3","C4"], "range": ["#333333","#e8141c","#22d822","#1c1cc8","#d41cd4"]}, "legend": null}}},
  {"data": {"name": "c"}, "transform": [{"filter": "datum.p == 'WRF' && datum.s == 'E'"}], "mark": {"type": "line", "interpolate": "monotone", "color": "black", "strokeWidth": 2}},
  {"data": {"name": "l"}, "transform": [{"filter": "datum.p == 'WRF' && datum.k == 'c'"}], "mark": {"type": "text", "fontSize": 14, "baseline": "alphabetic", "align": "center", "color": "black"}, "encoding": {"text": {"field": "t"}}},
  {"data": {"name": "l"}, "transform": [{"filter": "datum.p == 'WRF' && datum.k == 'n'"}], "mark": {"type": "text", "fontSize": 14, "fontWeight": "bold", "baseline": "middle", "align": "left", "color": "black"}, "encoding": {"text": {"field": "t"}}}
 ]}
]
}
